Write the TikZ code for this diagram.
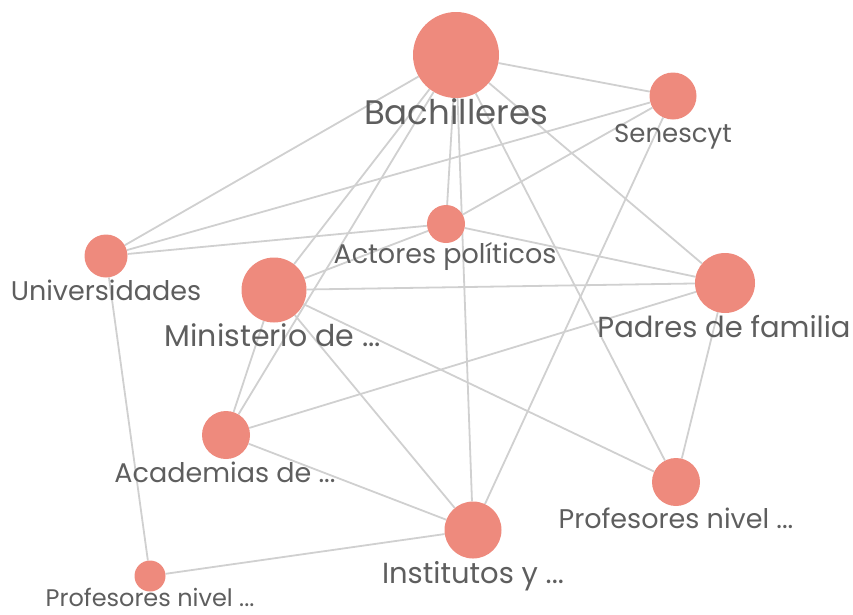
\documentclass[tikz,border=0pt]{standalone}
\usepackage{fontspec}
\setmainfont{Poppins}
\usetikzlibrary{backgrounds}
\definecolor{salmon}{HTML}{EE8A7D}
\definecolor{edgegray}{HTML}{D0D0D0}
\definecolor{labelgray}{HTML}{5E5E5E}

\begin{document}
\begin{tikzpicture}[x=1pt,y=-1pt]
        \tikzset{
    actor/.style={circle,fill=salmon,inner sep=0pt,minimum size=#1},
    tag/.style={text=labelgray,font=\fontsize{#1}{#1}\selectfont,inner sep=0pt,anchor=base},
    tie/.style={draw=edgegray,line width=1.8pt},
        }
        \useasboundingbox (0,0) rectangle (853,614);

        % The actors, sized by weight.
        \node[actor=86pt] (bach) at (456,55)  {}; % Bachilleres
        \node[actor=47pt] (sene) at (673,96)  {}; % Senescyt
        \node[actor=38pt] (acto) at (446,224) {}; % Actores politicos
        \node[actor=43pt] (univ) at (106,256) {}; % Universidades
        \node[actor=65pt] (mini) at (274,290) {}; % Ministerio
        \node[actor=60pt] (padr) at (725,283) {}; % Padres de familia
        \node[actor=48pt] (acad) at (226,435) {}; % Academias
        \node[actor=48pt] (prfr) at (676,482) {}; % Profesores (right)
        \node[actor=57pt] (inst) at (473,530) {}; % Institutos
        \node[actor=31pt] (prfl) at (150,576) {}; % Profesores (left)

        % Labels under each actor.
        \node[tag=34] (bachT) at (456,124) {Bachilleres};
        \node[tag=26] (seneT) at (673,142) {Senescyt};
        \node[tag=27] (actoT) at (445,263) {Actores políticos};
        \node[tag=27] (univT) at (106,300) {Universidades};
        \node[tag=30] (miniT) at (273,346) {Ministerio de ...};
        \node[tag=29] (padrT) at (724,337) {Padres de familia};
        \node[tag=27] (acadT) at (225,482) {Academias de ...};
        \node[tag=27] (prfrT) at (676,528) {Profesores nivel ...};
        \node[tag=29] (instT) at (473,583) {Institutos y ...};
        \node[tag=24,text depth=0pt] (prflT) at (150,606) {Profesores nivel ...};

        % Ties go behind everything else.
        \begin{scope}[on background layer]
        \foreach \a/\b in {bach/sene, bach/univ, bach/mini, bach/acad, bach/acto,
                bach/inst, bach/prfr, bach/padr, univ/sene, univ/acto, sene/acto,
                acto/mini, sene/inst, acto/padr, mini/padr, mini/prfr, mini/inst,
                mini/acad, padr/acad, padr/prfr, acad/inst, univ/prfl, prfl/inst}
            \draw[tie] (\a) -- (\b);
        \end{scope}
\end{tikzpicture}
\end{document}
